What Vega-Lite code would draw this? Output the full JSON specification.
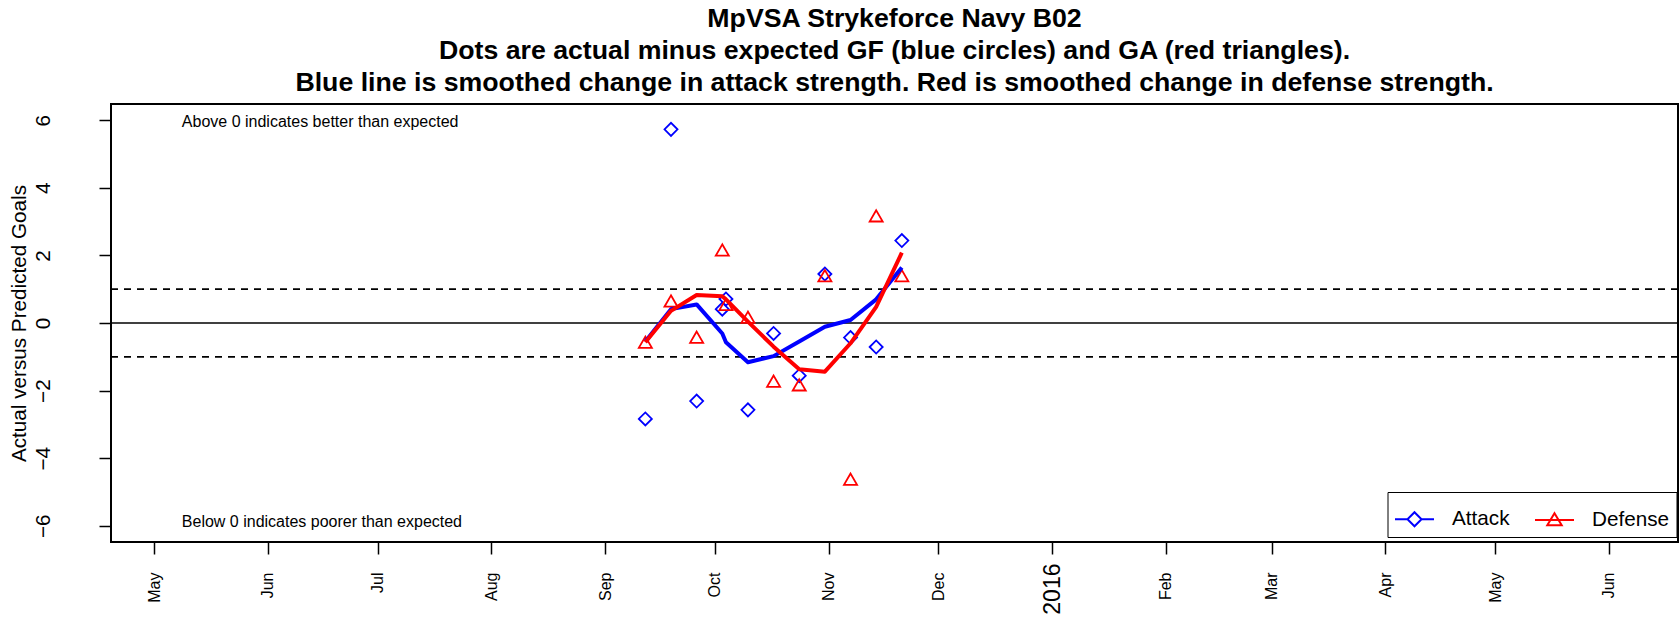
{
  "$schema": "https://vega.github.io/schema/vega-lite/v6.json",
  "width": 1567,
  "height": 438,
  "autosize": {"type": "none"},
  "padding": {"left": 111, "top": 104, "right": 2, "bottom": 77},
  "background": "white",
  "config": {
    "font": "Liberation Sans",
    "view": {"stroke": "black", "strokeWidth": 2},
    "axis": {"grid": false, "domain": false, "tickColor": "black", "labelColor": "black", "titleColor": "black", "labelFont": "Liberation Sans", "titleFont": "Liberation Sans"}
  },
  "title": {
    "text": [
      "MpVSA Strykeforce Navy B02",
      "Dots are actual minus expected GF (blue circles) and GA (red triangles).",
      "Blue line is smoothed change in attack strength. Red is smoothed change in defense strength."
    ],
    "fontSize": 26.7,
    "fontWeight": "bold",
    "lineHeight": 32,
    "anchor": "middle",
    "frame": "group",
    "color": "black",
    "baseline": "bottom",
    "offset": -19.5
  },
  "datasets": {
    "pts": [
      {"date": "2015-09-12T00:00:00", "series": "Attack", "value": -2.84},
      {"date": "2015-09-19T00:00:00", "series": "Attack", "value": 5.73},
      {"date": "2015-09-26T00:00:00", "series": "Attack", "value": -2.31},
      {"date": "2015-10-03T00:00:00", "series": "Attack", "value": 0.41},
      {"date": "2015-10-04T00:00:00", "series": "Attack", "value": 0.71},
      {"date": "2015-10-10T00:00:00", "series": "Attack", "value": -2.57},
      {"date": "2015-10-17T00:00:00", "series": "Attack", "value": -0.31},
      {"date": "2015-10-24T00:00:00", "series": "Attack", "value": -1.56},
      {"date": "2015-10-31T00:00:00", "series": "Attack", "value": 1.45},
      {"date": "2015-11-07T00:00:00", "series": "Attack", "value": -0.43},
      {"date": "2015-11-14T00:00:00", "series": "Attack", "value": -0.71},
      {"date": "2015-11-21T00:00:00", "series": "Attack", "value": 2.44},
      {"date": "2015-09-12T00:00:00", "series": "Defense", "value": -0.57},
      {"date": "2015-09-19T00:00:00", "series": "Defense", "value": 0.65},
      {"date": "2015-09-26T00:00:00", "series": "Defense", "value": -0.42},
      {"date": "2015-10-03T00:00:00", "series": "Defense", "value": 2.16},
      {"date": "2015-10-04T00:00:00", "series": "Defense", "value": 0.55},
      {"date": "2015-10-10T00:00:00", "series": "Defense", "value": 0.17},
      {"date": "2015-10-17T00:00:00", "series": "Defense", "value": -1.72},
      {"date": "2015-10-24T00:00:00", "series": "Defense", "value": -1.83},
      {"date": "2015-10-31T00:00:00", "series": "Defense", "value": 1.40},
      {"date": "2015-11-07T00:00:00", "series": "Defense", "value": -4.62},
      {"date": "2015-11-14T00:00:00", "series": "Defense", "value": 3.17},
      {"date": "2015-11-21T00:00:00", "series": "Defense", "value": 1.40}
    ],
    "smooth": [
      {"date": "2015-09-12T00:00:00", "series": "Attack", "value": -0.55},
      {"date": "2015-09-19T00:00:00", "series": "Attack", "value": 0.41},
      {"date": "2015-09-26T00:00:00", "series": "Attack", "value": 0.55},
      {"date": "2015-10-03T00:00:00", "series": "Attack", "value": -0.31},
      {"date": "2015-10-04T00:00:00", "series": "Attack", "value": -0.57},
      {"date": "2015-10-10T00:00:00", "series": "Attack", "value": -1.16},
      {"date": "2015-10-17T00:00:00", "series": "Attack", "value": -0.98},
      {"date": "2015-10-24T00:00:00", "series": "Attack", "value": -0.55},
      {"date": "2015-10-31T00:00:00", "series": "Attack", "value": -0.11},
      {"date": "2015-11-07T00:00:00", "series": "Attack", "value": 0.09},
      {"date": "2015-11-14T00:00:00", "series": "Attack", "value": 0.70},
      {"date": "2015-11-21T00:00:00", "series": "Attack", "value": 1.64},
      {"date": "2015-09-12T00:00:00", "series": "Defense", "value": -0.57},
      {"date": "2015-09-19T00:00:00", "series": "Defense", "value": 0.36},
      {"date": "2015-09-26T00:00:00", "series": "Defense", "value": 0.83},
      {"date": "2015-10-03T00:00:00", "series": "Defense", "value": 0.79},
      {"date": "2015-10-04T00:00:00", "series": "Defense", "value": 0.70},
      {"date": "2015-10-10T00:00:00", "series": "Defense", "value": 0.04},
      {"date": "2015-10-17T00:00:00", "series": "Defense", "value": -0.70},
      {"date": "2015-10-24T00:00:00", "series": "Defense", "value": -1.37},
      {"date": "2015-10-31T00:00:00", "series": "Defense", "value": -1.44},
      {"date": "2015-11-07T00:00:00", "series": "Defense", "value": -0.60},
      {"date": "2015-11-14T00:00:00", "series": "Defense", "value": 0.48},
      {"date": "2015-11-21T00:00:00", "series": "Defense", "value": 2.08}
    ],
    "notes": [
      {"date": "2015-05-08T12:00:00", "value": 5.94, "label": "Above 0 indicates better than expected"},
      {"date": "2015-05-08T12:00:00", "value": -5.9, "label": "Below 0 indicates poorer than expected"}
    ],
    "zero": [{"value": 0}],
    "band": [{"value": 1}, {"value": -1}]
  },
  "encoding": {
    "x": {
      "field": "date",
      "type": "temporal",
      "title": null,
      "scale": {"domain": [{"year": 2015, "month": 4, "date": 19, "hours": 4}, {"year": 2016, "month": 6, "date": 19, "hours": 20}]},
      "axis": {
        "values": [
          {"year": 2015, "month": 5, "date": 1}, {"year": 2015, "month": 6, "date": 1}, {"year": 2015, "month": 7, "date": 1},
          {"year": 2015, "month": 8, "date": 1}, {"year": 2015, "month": 9, "date": 1}, {"year": 2015, "month": 10, "date": 1},
          {"year": 2015, "month": 11, "date": 1}, {"year": 2015, "month": 12, "date": 1}, {"year": 2016, "month": 1, "date": 1},
          {"year": 2016, "month": 2, "date": 1}, {"year": 2016, "month": 3, "date": 1}, {"year": 2016, "month": 4, "date": 1},
          {"year": 2016, "month": 5, "date": 1}, {"year": 2016, "month": 6, "date": 1}
        ],
        "labelExpr": "month(datum.value) === 0 ? timeFormat(datum.value, '%Y') : timeFormat(datum.value, '%b')",
        "labelAngle": -90,
        "labelAlign": "right",
        "labelBaseline": "middle",
        "labelFontSize": {"condition": {"test": "month(datum.value) === 0", "value": 23}, "value": 16},
        "labelPadding": {"condition": {"test": "month(datum.value) === 0", "value": 9}, "value": 18},
        "tickSize": 12,
        "tickWidth": 1.5,
        "labelOverlap": false,
        "labelBound": false,
        "labelFlush": false
      }
    },
    "y": {
      "field": "value",
      "type": "quantitative",
      "scale": {"domain": [-6.48, 6.48], "nice": false, "zero": false},
      "axis": {
        "values": [-6, -4, -2, 0, 2, 4, 6],
        "title": "Actual versus Predicted Goals",
        "titleFontSize": 20.7,
        "titleFontWeight": "normal",
        "titleAngle": -90,
        "titleAlign": "center",
        "titleBaseline": "middle",
        "titleX": -92,
        "titleY": 219,
        "labelAngle": -90,
        "labelAlign": "center",
        "labelBaseline": "middle",
        "labelFontSize": 20.7,
        "labelPadding": 56,
        "tickSize": 12,
        "tickWidth": 1.5,
        "labelOverlap": false,
        "labelFlush": false,
        "labelBound": false
      }
    }
  },
  "layer": [
    {
      "data": {"name": "zero"},
      "mark": {"type": "rule", "color": "black", "strokeWidth": 1.7},
      "encoding": {"x": null}
    },
    {
      "data": {"name": "band"},
      "mark": {"type": "rule", "color": "black", "strokeWidth": 1.7, "strokeDash": [7, 6]},
      "encoding": {"x": null}
    },
    {
      "data": {"name": "notes"},
      "mark": {"type": "text", "align": "left", "baseline": "middle", "fontSize": 16, "color": "black"},
      "encoding": {"text": {"field": "label"}}
    },
    {
      "data": {"name": "pts"},
      "transform": [{"filter": "datum.series === 'Attack'"}],
      "mark": {"type": "point", "shape": "diamond", "filled": false, "color": "#0000FF", "strokeWidth": 1.8, "size": 170, "opacity": 1},
      "encoding": {}
    },
    {
      "data": {"name": "pts"},
      "transform": [{"filter": "datum.series === 'Defense'"}],
      "mark": {"type": "point", "shape": "triangle-up", "filled": false, "color": "#FF0000", "strokeWidth": 1.8, "size": 170, "opacity": 1},
      "encoding": {}
    },
    {
      "data": {"name": "smooth"},
      "mark": {"type": "line", "strokeWidth": 4, "strokeJoin": "round"},
      "encoding": {
        "color": {
          "field": "series",
          "type": "nominal",
          "scale": {"domain": ["Attack", "Defense"], "range": ["#0000FF", "#FF0000"]},
          "legend": {
            "orient": "none",
            "legendX": 1276.5,
            "legendY": 388,
            "direction": "horizontal",
            "columns": 2,
            "title": null,
            "strokeColor": "black",
            "fillColor": "white",
            "padding": 6.5,
            "symbolSize": 1521,
            "symbolStrokeWidth": 2,
            "symbolType": "M-1,0H-0.35M0.35,0H1M0,-0.35L0.35,0L0,0.35L-0.35,0Z",
            "labelFontSize": 20.7,
            "labelFont": "Liberation Sans",
            "labelColor": "black",
            "labelOffset": 17,
            "columnPadding": 21,
            "labelLimit": 200,
            "encode": {
              "symbols": {
                "update": {
                  "shape": {"signal": "datum.value === 'Attack' ? 'M-1,0H-0.36M0.36,0H1M0,-0.36L0.36,0L0,0.36L-0.36,0Z' : 'M-1,0H1M0,-0.34L0.37,0.28L-0.37,0.28Z'"},
                  "fill": {"value": "transparent"},
                  "strokeWidth": {"value": 2}
                }
              }
            }
          }
        }
      }
    }
  ]
}
